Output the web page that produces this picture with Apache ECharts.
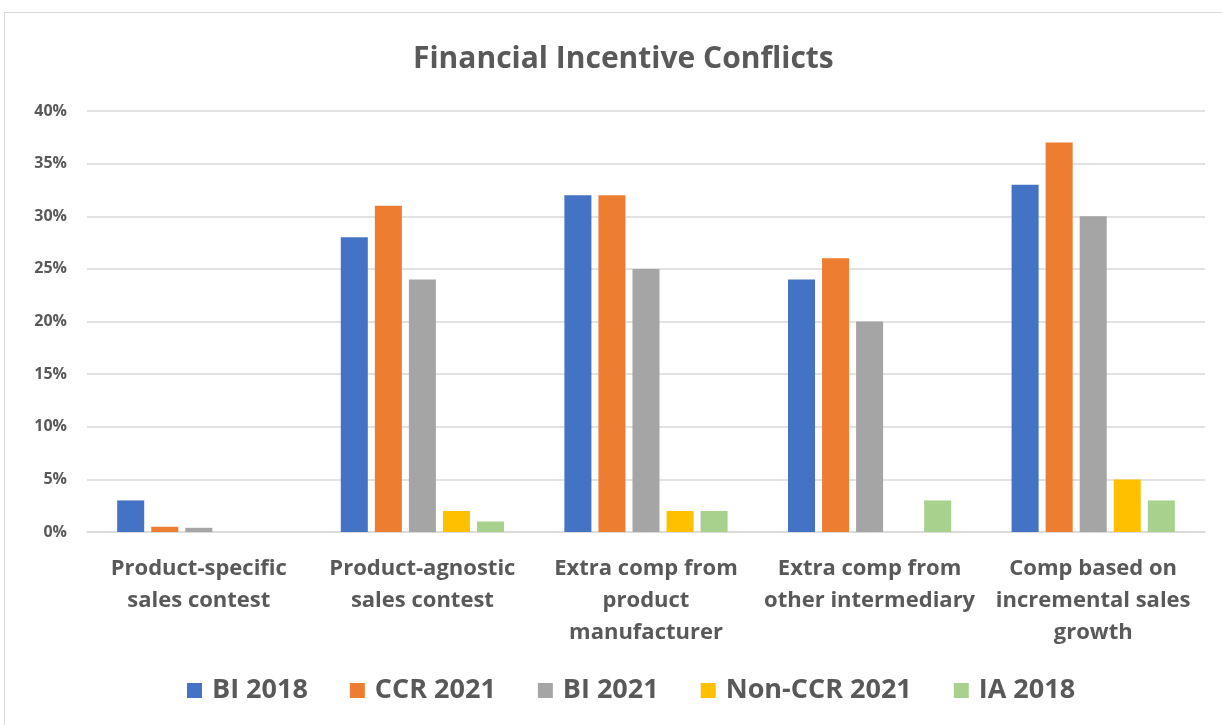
<!DOCTYPE html>
<html>
<head>
<meta charset="utf-8">
<script src="https://cdn.jsdelivr.net/npm/echarts@6/dist/echarts.min.js"></script>
<style>
  html, body { margin: 0; padding: 0; background: #ffffff; }
  #frame { position: absolute; left: 4px; top: 12px; width: 1230px; height: 730px; border: 1px solid #d9d9d9; box-sizing: border-box; }
  #chart { position: absolute; left: 0; top: 0; width: 1222px; height: 725px; }
</style>
</head>
<body>
<div id="frame"></div>
<div id="chart"></div>
<script>
// Share of respondents reporting each type of financial incentive conflict
const categories = [
  'Product-specific\nsales contest',
  'Product-agnostic\nsales contest',
  'Extra comp from\nproduct\nmanufacturer',
  'Extra comp from\nother intermediary',
  'Comp based on\nincremental sales\ngrowth'
];
const seriesNames = ['BI 2018', 'CCR 2021', 'BI 2021', 'Non-CCR 2021', 'IA 2018'];
const bi2018 = [3, 28, 32, 24, 33];
const ccr2021 = [0.5, 31, 32, 26, 37];
const bi2021 = [0.4, 24, 25, 20, 30];
const nonCcr2021 = [null, 2, 2, null, 5];
const ia2018 = [null, 1, 2, 3, 3];
const yTicks = [0, 5, 10, 15, 20, 25, 30, 35, 40];

const colors = ['#4472c4', '#ed7d31', '#a5a5a5', '#ffc000', '#a9d18e'];
const seriesData = [bi2018, ccr2021, bi2021, nonCcr2021, ia2018];
const textColor = '#595959';
const fontFamily = '"Open Sans", "Noto Sans", sans-serif';

const chart = echarts.init(document.getElementById('chart'));
chart.setOption({
  animation: false,
  color: colors,
  title: {
    text: 'Financial Incentive Conflicts',
    left: 408,
    top: 39,
    textStyle: { fontFamily, fontSize: 30, fontWeight: 'bold', color: textColor }
  },
  legend: {
    data: seriesNames,
    bottom: 16,
    left: 182,
    icon: 'rect',
    itemWidth: 15,
    itemHeight: 15,
    itemGap: 42,
    textStyle: { fontFamily, fontSize: 27, fontWeight: 'bold', color: textColor, padding: [0, 0, 0, 5] }
  },
  grid: { left: 87, right: 17, top: 111, bottom: 193, containLabel: false },
  xAxis: {
    type: 'category',
    data: categories,
    axisTick: { show: false },
    axisLine: { lineStyle: { color: '#d9d9d9', width: 1.5 } },
    axisLabel: { fontFamily, fontSize: 22, fontWeight: 'bold', color: textColor, lineHeight: 32, margin: 21, interval: 0 }
  },
  yAxis: {
    type: 'value',
    min: yTicks[0],
    max: yTicks[yTicks.length - 1],
    interval: 5,
    axisLine: { show: false },
    axisTick: { show: false },
    splitLine: { lineStyle: { color: '#d9d9d9', width: 1.5 } },
    axisLabel: { fontFamily, fontSize: 16, fontWeight: 'bold', color: textColor, margin: 20, formatter: v => v + '%' }
  },
  series: seriesNames.map((name, i) => ({
    name,
    type: 'bar',
    data: seriesData[i],
    barGap: '26%',
    barCategoryGap: '27%',
    itemStyle: { color: colors[i] }
  }))
});
</script>
</body>
</html>
